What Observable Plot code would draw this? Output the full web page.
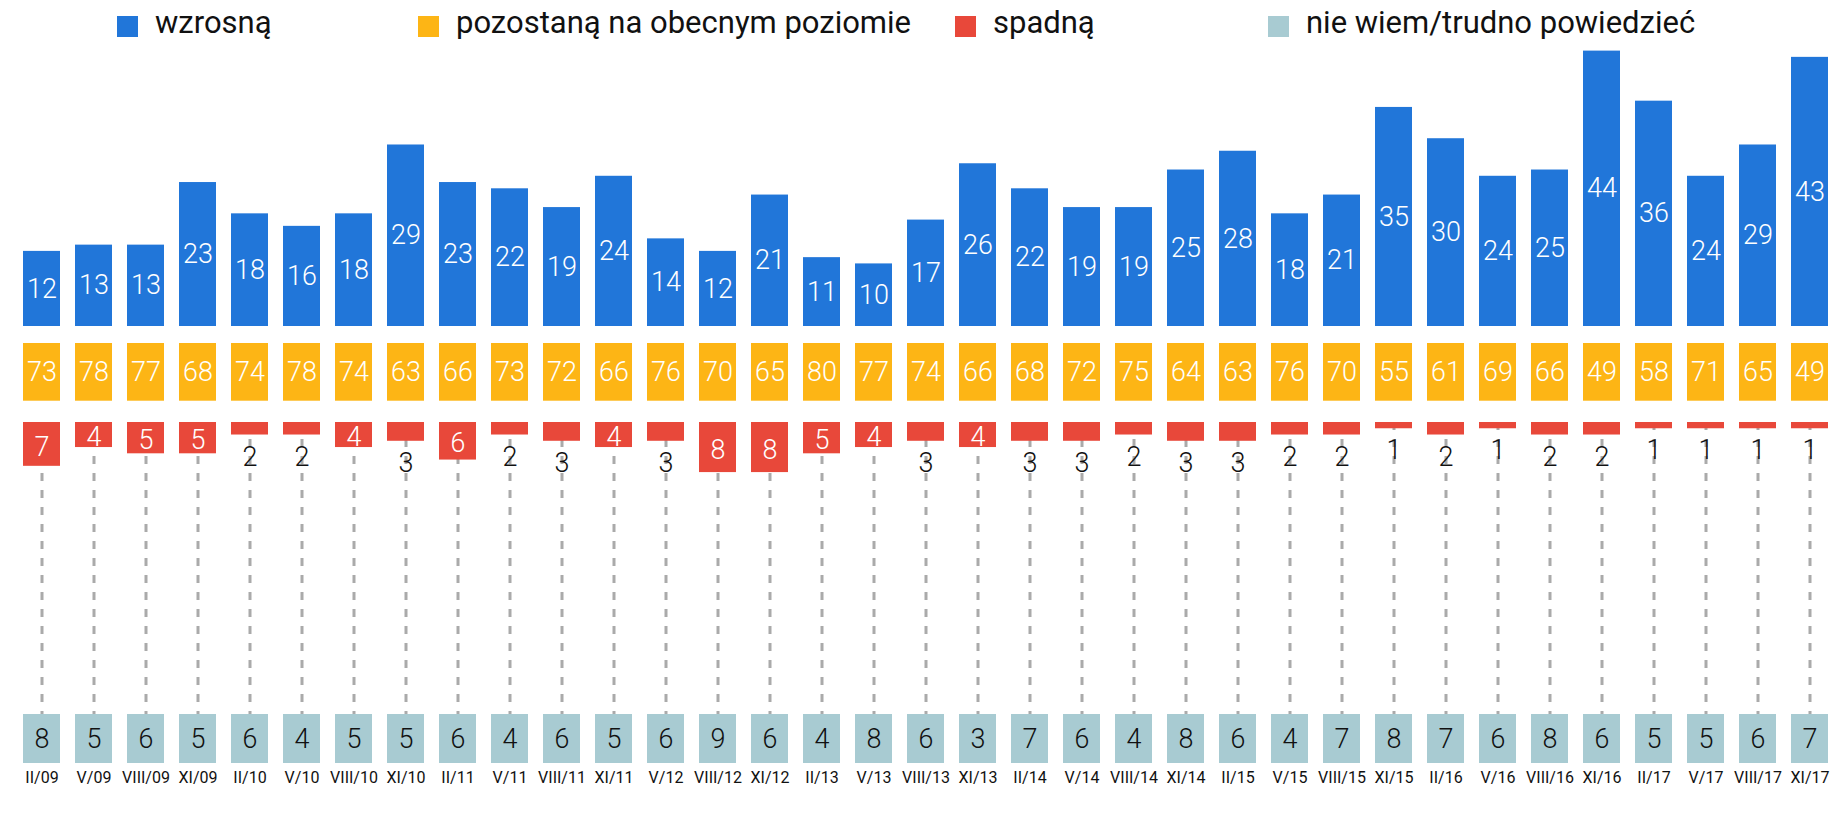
<!DOCTYPE html>
<html>
<head>
<meta charset="utf-8">
<script src="https://cdn.jsdelivr.net/npm/d3@7"></script>
<script src="https://cdn.jsdelivr.net/npm/@observablehq/plot@0.6"></script>
<style>
  html, body { margin: 0; padding: 0; background: #fff; }
  body { width: 1837px; font-family: Roboto, "Liberation Sans", sans-serif; }
  #legend { position: relative; height: 48px; width: 1837px; }
  .item { position: absolute; top: 0; height: 48px; }
  .sw { position: absolute; top: 16px; width: 21px; height: 21px; }
  .lab { position: absolute; left: 38px; top: 4px; font-size: 31px; line-height: 38px; color: #111; white-space: nowrap; }
  svg { display: block; overflow: visible; }
</style>
</head>
<body>
<div id="legend"></div>
<div id="chart"></div>
<script>
// ---- data ----
const periods = ["II/09","V/09","VIII/09","XI/09","II/10","V/10","VIII/10","XI/10","II/11","V/11","VIII/11","XI/11",
  "V/12","VIII/12","XI/12","II/13","V/13","VIII/13","XI/13","II/14","V/14","VIII/14","XI/14",
  "II/15","V/15","VIII/15","XI/15","II/16","V/16","VIII/16","XI/16","II/17","V/17","VIII/17","XI/17"];
const wzrosna   = [12,13,13,23,18,16,18,29,23,22,19,24,14,12,21,11,10,17,26,22,19,19,25,28,18,21,35,30,24,25,44,36,24,29,43];
const pozostana = [73,78,77,68,74,78,74,63,66,73,72,66,76,70,65,80,77,74,66,68,72,75,64,63,76,70,55,61,69,66,49,58,71,65,49];
const spadna    = [7,4,5,5,2,2,4,3,6,2,3,4,3,8,8,5,4,3,4,3,3,2,3,3,2,2,1,2,1,2,2,1,1,1,1];
const nieWiem   = [8,5,6,5,6,4,5,5,6,4,6,5,6,9,6,4,8,6,3,7,6,4,8,6,4,7,8,7,6,8,6,5,5,6,7];
const seriesNames = ["wzrosną","pozostaną na obecnym poziomie","spadną","nie wiem/trudno powiedzieć"];

// ---- styles / layout ----
const colors = ["#2176d9","#fdb515","#e8483a","#a8cbd2"];
const legendX = [117, 418, 955, 1268];
const W = 1837;
const font = 'Roboto, "Liberation Sans", sans-serif';
const numSize = 27;
const numWeight = 300;

const rows = periods.map((p, i) => ({period: p, up: wzrosna[i], same: pozostana[i], down: spadna[i], dk: nieWiem[i]}));

// legend
const leg = d3.select("#legend");
seriesNames.forEach((name, i) => {
  const it = leg.append("div").attr("class","item").style("left", legendX[i] + "px");
  it.append("div").attr("class","sw").style("background", colors[i]);
  it.append("div").attr("class","lab").text(name);
});

const xOpts = {domain: periods, paddingInner: 0.286, paddingOuter: 0, axis: null};
const base = {width: W, marginLeft: 14, marginRight: 0.5, style: {fontFamily: font, background: "transparent", overflow: "visible"}};

// blue: wzrosną
const blue = Plot.plot({
  ...base, height: 295, marginTop: 2.6, marginBottom: 17,
  x: xOpts,
  y: {domain: [0, 44], axis: null},
  marks: [
    Plot.barY(rows, {x: "period", y: "up", fill: colors[0]}),
    Plot.text(rows, {x: "period", y: d => d.up / 2, text: "up", fill: "white", fontSize: numSize, fontWeight: numWeight})
  ]
});

// yellow: pozostaną
const yellow = Plot.plot({
  ...base, height: 79, marginTop: 0, marginBottom: 21.3,
  x: xOpts,
  marks: [
    Plot.cell(rows, {x: "period", fill: colors[1]}),
    Plot.text(rows, {x: "period", text: "same", frameAnchor: "middle", fill: "white", fontSize: numSize, fontWeight: numWeight})
  ]
});

// red: spadną + dashed connectors
const red = Plot.plot({
  ...base, height: 292, marginTop: 0, marginBottom: 0,
  x: xOpts,
  y: {domain: [0, 292 / 6.26], range: [0, 292], axis: null},
  marks: [
    Plot.ruleX(rows, {x: "period", stroke: "#aaaaaa", strokeWidth: 3, strokeDasharray: "8,9"}),
    Plot.barY(rows, {x: "period", y: "down", fill: colors[2]}),
    Plot.text(rows, {filter: d => d.down >= 4, x: "period", y: d => d.down / 2 + 0.4, text: "down", fill: "white", fontSize: numSize, fontWeight: numWeight}),
    Plot.text(rows, {filter: d => d.down < 4, x: "period", y: "down", dy: 22, text: "down", fill: "#111", fontSize: numSize, fontWeight: numWeight})
  ]
});

// teal: nie wiem + axis
const teal = Plot.plot({
  ...base, height: 104, marginTop: 0, marginBottom: 55,
  x: {...xOpts, axis: null},
  marks: [
    Plot.cell(rows, {x: "period", fill: colors[3]}),
    Plot.text(rows, {x: "period", text: "dk", frameAnchor: "middle", fill: "#111", fontSize: numSize, fontWeight: numWeight}),
    Plot.axisX({tickSize: 0, tickPadding: 8, fontSize: 16, color: "#111", label: null})
  ]
});

const chart = document.getElementById("chart");
[blue, yellow, red, teal].forEach(s => chart.appendChild(s));
</script>
</body>
</html>
